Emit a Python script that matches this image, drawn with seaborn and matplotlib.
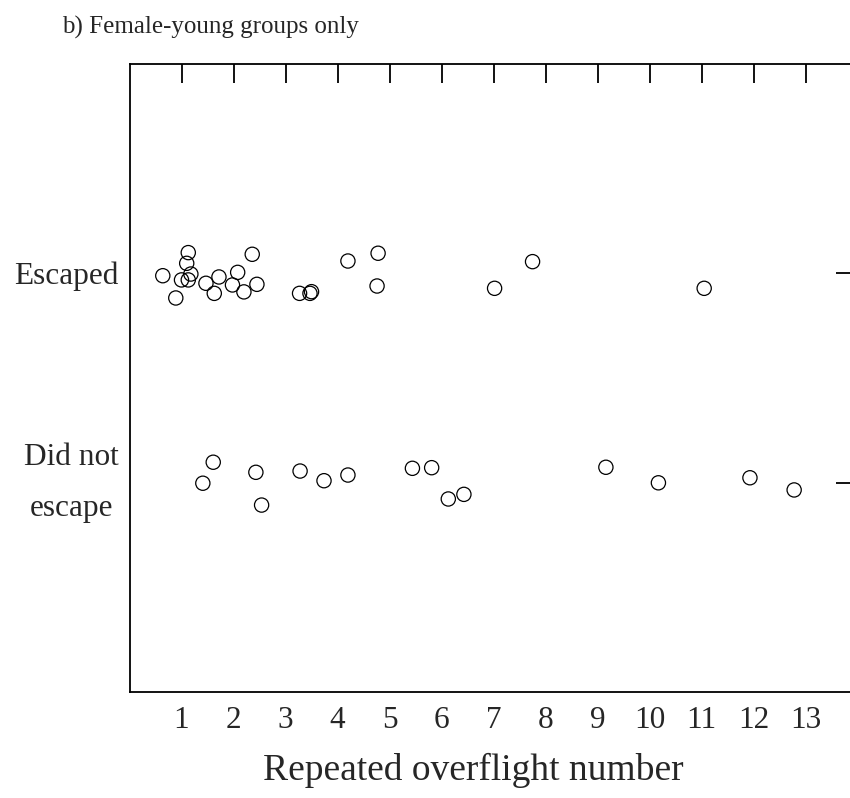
import numpy as np
import pandas as pd
import matplotlib
matplotlib.use("Agg")
import matplotlib.pyplot as plt
import seaborn as sns

# valores: numero do sobrevoo e deslocamento vertical (jitter)
escaped_x = [0.64, 1.13, 1.10, 1.18, 1.00, 1.13, 0.89, 1.47, 1.72, 1.63, 2.08, 1.98,
             2.20, 2.45, 2.36, 3.27, 3.47, 3.50, 4.20, 4.78, 4.76, 7.02, 7.75, 11.05]
escaped_jit = [-0.013, 0.097, 0.046, -0.005, -0.033, -0.033, -0.119, -0.049, -0.019,
               -0.097, 0.003, -0.057, -0.090, -0.054, 0.089, -0.097, -0.097, -0.089,
               0.057, 0.094, -0.062, -0.073, 0.054, -0.073]
noesc_x = [1.41, 1.61, 2.43, 2.54, 3.28, 3.74, 4.20, 5.44, 5.81, 6.13, 6.43,
           9.16, 10.17, 11.93, 12.78]
noesc_jit = [-0.001, 0.099, 0.051, -0.105, 0.057, 0.011, 0.038, 0.070, 0.073,
             -0.076, -0.054, 0.075, 0.001, 0.025, -0.033]

categories = ["Did not\nescape", "Escaped"]
xticks = list(range(1, 14))

df = pd.concat([
    pd.DataFrame({"overflight": escaped_x, "resp": 1 + np.array(escaped_jit)}),
    pd.DataFrame({"overflight": noesc_x, "resp": 0 + np.array(noesc_jit)}),
])

sns.set_style("white")
plt.rcParams["font.family"] = ["Liberation Serif", "DejaVu Serif"]

fig = plt.figure(figsize=(8.5, 7.98), dpi=100)
ax = fig.add_axes([129.5 / 850, 106 / 798, 725.5 / 850, 628 / 798])

sns.scatterplot(data=df, x="overflight", y="resp", ax=ax, s=105,
                facecolor="none", edgecolor="black", linewidth=0.9, legend=False)

ax.set_xlim(0, 13.95)
ax.set_ylim(-0.995, 1.995)
ax.set_xticks(xticks)
ax.set_xticklabels([str(t) for t in xticks])
ax.set_yticks([0, 1])
ax.set_yticklabels(categories, multialignment="center", linespacing=2.0)
ax.get_yticklabels()[0].set_va("center")
ax.set_xlabel("")
ax.set_ylabel("")

for sp in ax.spines.values():
    sp.set_visible(True)
    sp.set_color("black")
    sp.set_linewidth(1.3)

ax.tick_params(axis="both", direction="in", length=13.5, width=1.3, color="black",
               labelsize=22.5, top=True, right=True)
ax.tick_params(axis="x", pad=10)
ax.tick_params(axis="y", pad=8)

fig.text(62 / 850, 1 - 27 / 798, "b) Female-young groups only", fontsize=18,
         ha="left", va="center")
fig.text(473 / 850, 1 - 770 / 798, "Repeated overflight number", fontsize=27,
         ha="center", va="center")

fig.savefig("out.png", dpi=100)
